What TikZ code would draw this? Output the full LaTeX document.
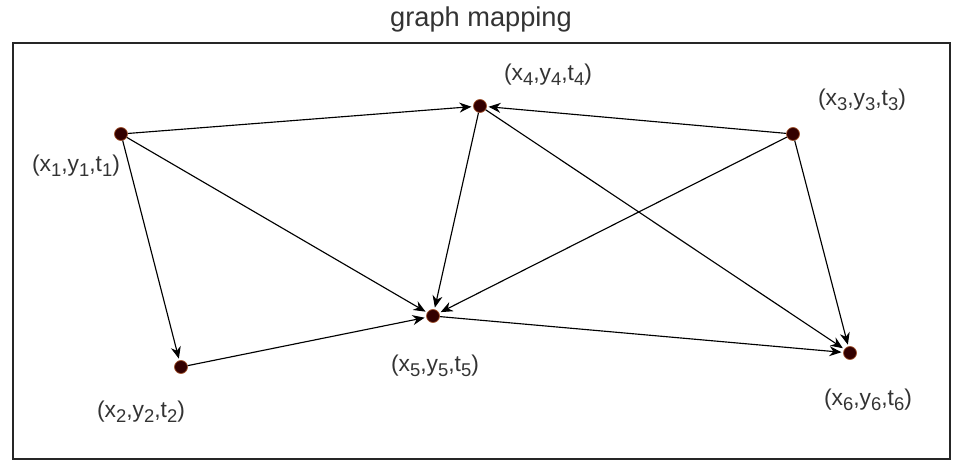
\documentclass[tikz,border=0pt]{standalone}
\usepackage{fontspec}
\setmainfont{Liberation Sans}
\usetikzlibrary{arrows.meta}
\definecolor{nodefill}{HTML}{330000}
\definecolor{nodeline}{HTML}{A0522D}
\definecolor{txt}{HTML}{333333}
\newcommand{\sbx}[1]{\raisebox{-0.35ex}{\fontsize{10.5}{11}\selectfont #1}}
\begin{document}
\begin{tikzpicture}[x=0.02cm,y=-0.02cm,
  dot/.style={circle,fill=nodefill,draw=nodeline,line width=0.4pt,minimum size=0.26cm,inner sep=0pt},
  lbl/.style={text=txt,font=\fontsize{13}{15}\selectfont,inner sep=0pt},
  edge/.style={-{Stealth[length=0.24cm,width=0.2cm]},line width=0.65pt,shorten >=1pt}]
\useasboundingbox (0,0) rectangle (963,462);
\draw[line width=0.8pt,black!85] (13,43) rectangle (950,459);
\node[text=txt,font=\fontsize{15.5}{18}\selectfont] (title) at (481,19) {graph mapping};
\node[dot] (n1) at (121,134) {};
\node[dot] (n4) at (480,106) {};
\node[dot] (n3) at (793,134) {};
\node[dot] (n5) at (433,316) {};
\node[dot] (n2) at (181,367) {};
\node[dot] (n6) at (850,353) {};
\node[lbl] (l1) at (76,166) {(x\sbx{1},y\sbx{1},t\sbx{1})};
\node[lbl] (l4) at (548,75) {(x\sbx{4},y\sbx{4},t\sbx{4})};
\node[lbl] (l3) at (862,100) {(x\sbx{3},y\sbx{3},t\sbx{3})};
\node[lbl] (l5) at (435,366) {(x\sbx{5},y\sbx{5},t\sbx{5})};
\node[lbl] (l2) at (141,412) {(x\sbx{2},y\sbx{2},t\sbx{2})};
\node[lbl] (l6) at (868,400) {(x\sbx{6},y\sbx{6},t\sbx{6})};
\draw[edge] (n1) -- (n4);
\draw[edge] (n1) -- (n5);
\draw[edge] (n1) -- (n2);
\draw[edge] (n2) -- (n5);
\draw[edge] (n4) -- (n5);
\draw[edge] (n4) -- (n6);
\draw[edge] (n3) -- (n4);
\draw[edge] (n3) -- (n5);
\draw[edge] (n3) -- (n6);
\draw[edge] (n5) -- (n6);
\end{tikzpicture}
\end{document}
